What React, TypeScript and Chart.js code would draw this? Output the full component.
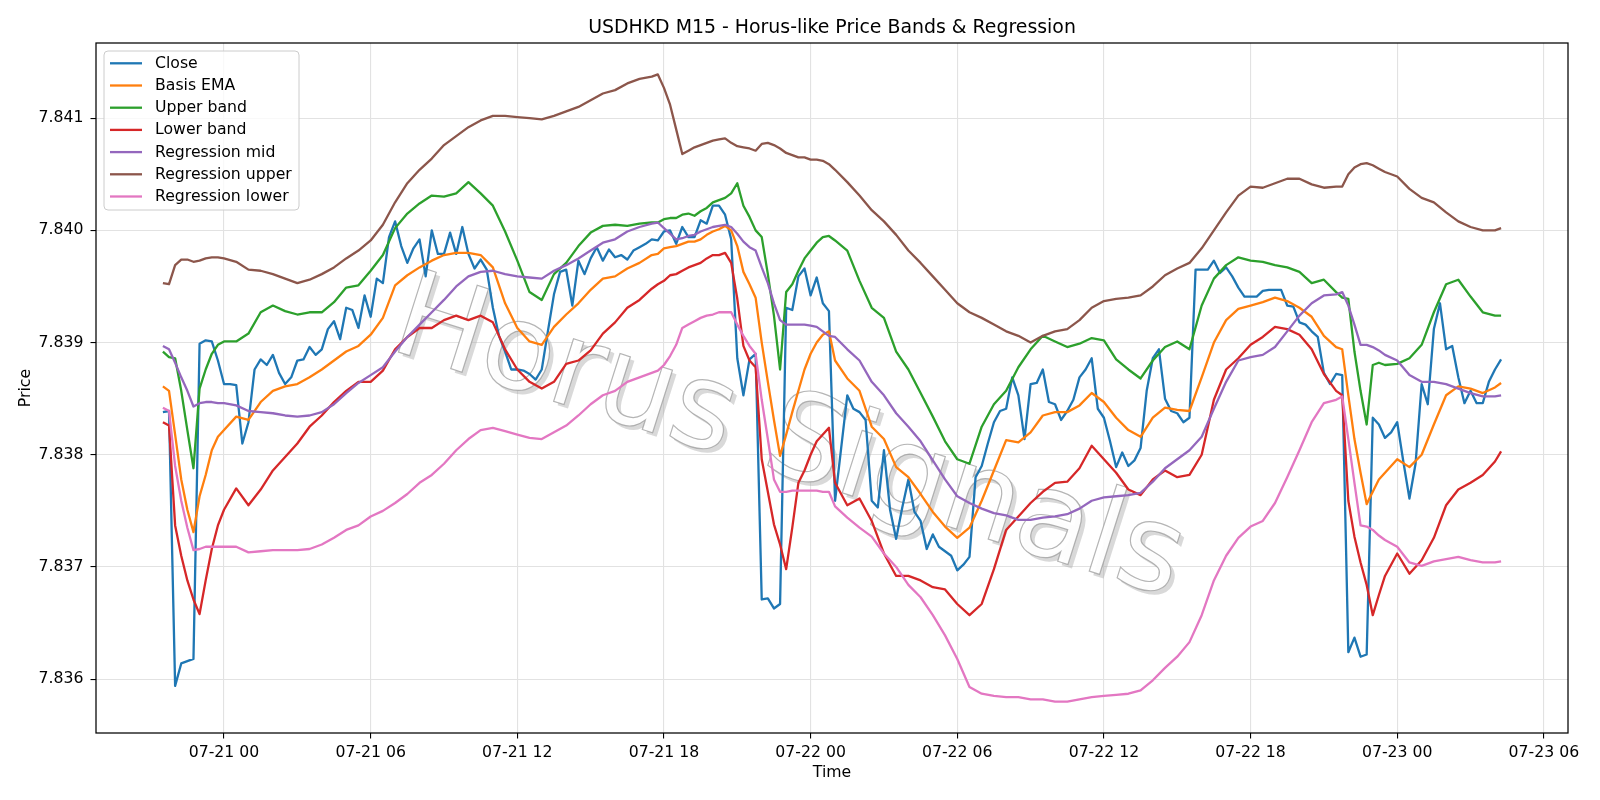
import React, { useEffect, useRef } from "react";
import { Chart, registerables } from "chart.js";

Chart.register(...registerables);

const FONT = '"DejaVu Sans", "Liberation Sans", sans-serif';

// ---- Time axis (hours relative to 07-21 00:00) ----
const closeStartHour = -2.5; // 07-20 21:30
const closeStepHours = 0.25; // M15 bars
const xMinHour = -5.2375;
const xMaxHour = 54.9875;
const xTickHours = [0, 6, 12, 18, 24, 30, 36, 42, 48, 54];
const xTickLabels = ["07-21 00", "07-21 06", "07-21 12", "07-21 18", "07-22 00", "07-22 06", "07-22 12", "07-22 18", "07-23 00", "07-23 06"];
const yMin = 7.83552;
const yMax = 7.84167;
const yTickValues = [7.836, 7.837, 7.838, 7.839, 7.84, 7.841];
const yTickLabels = ["7.836", "7.837", "7.838", "7.839", "7.840", "7.841"];

// ---- Close (every 15 minutes) ----
const closeValues = [
  7.83838, 7.83839, 7.83594, 7.83614, 7.83616, 7.83618, 7.83899, 7.83902, 7.83901, 7.83884, 7.83863,
  7.83863, 7.83862, 7.8381, 7.83829, 7.83876, 7.83885, 7.8388, 7.83889, 7.83873, 7.83863, 7.83869, 7.83884,
  7.83885, 7.83896, 7.83889, 7.83894, 7.83912, 7.83919, 7.83903, 7.83931, 7.83929, 7.83913, 7.83942, 7.83923,
  7.83957, 7.83953, 7.83994, 7.84008, 7.83986, 7.83971, 7.83984, 7.83992, 7.83959, 7.84, 7.83979, 7.83979,
  7.83998, 7.83979, 7.84003, 7.83979, 7.83966, 7.83974, 7.83965, 7.83931, 7.83906, 7.83892, 7.83876, 7.83876,
  7.83875, 7.83872, 7.83867, 7.83876, 7.8391, 7.83943, 7.83963, 7.83965, 7.83933, 7.83973, 7.83961, 7.83975,
  7.83985, 7.83973, 7.83983, 7.83976, 7.83978, 7.83974, 7.83982, 7.83985, 7.83988, 7.83992, 7.83991, 7.83999,
  7.84, 7.83988, 7.84003, 7.83994, 7.83994, 7.84009, 7.84006, 7.84022, 7.84022, 7.84014, 7.83992, 7.83886,
  7.83853, 7.83885, 7.8389, 7.83671, 7.83672, 7.83663, 7.83667, 7.83931, 7.83929, 7.83959, 7.83966, 7.83942,
  7.83958, 7.83935, 7.83928, 7.83759, 7.83806, 7.83853, 7.83841, 7.83838, 7.83831, 7.83759, 7.83753, 7.83804,
  7.83751, 7.83725, 7.83753, 7.83778, 7.83749, 7.83741, 7.83716, 7.83729, 7.83718, 7.83714, 7.8371, 7.83697,
  7.83702, 7.83709, 7.8378, 7.8379, 7.8381, 7.83829, 7.83839, 7.83841, 7.83869, 7.83853, 7.83814, 7.83863,
  7.83864, 7.83876, 7.83847, 7.83845, 7.83831, 7.83839, 7.83849, 7.83869, 7.83876, 7.83886, 7.83841, 7.83833,
  7.83812, 7.83789, 7.83802, 7.8379, 7.83795, 7.83806, 7.83857, 7.83886, 7.83894, 7.8385, 7.83839, 7.83837,
  7.83829, 7.83833, 7.83965, 7.83965, 7.83965, 7.83973, 7.83962, 7.83967, 7.83959, 7.83949, 7.83941, 7.83941,
  7.83941, 7.83946, 7.83947, 7.83947, 7.83947, 7.83933, 7.83932, 7.83918, 7.83916, 7.8391, 7.83905, 7.83873,
  7.83863, 7.83872, 7.83871, 7.83624, 7.83637, 7.8362, 7.83622, 7.83833, 7.83827, 7.83815, 7.8382, 7.83829,
  7.83794, 7.83761, 7.83792, 7.83863, 7.83845, 7.83912, 7.83935, 7.83894, 7.83897, 7.83869, 7.83846, 7.83857,
  7.83846, 7.83846, 7.83865, 7.83876, 7.83885,
];

// ---- Sample times for the smooth bands ----
const bandHours = [
  -2.5, -2.25, -2, -1.75, -1.5, -1.25, -1, -0.75, -0.5, -0.25, 0,
  0.5, 1, 1.5, 2, 2.5, 3, 3.5, 4, 4.5, 5, 5.5, 6, 6.5,
  7, 7.5, 8, 8.5, 9, 9.5, 10, 10.5, 11, 11.5, 12, 12.5, 13, 13.5, 14, 14.5, 15, 15.5,
  16, 16.5, 17, 17.5,
  17.75, 18, 18.25, 18.5, 18.75, 19, 19.25, 19.5, 19.75, 20, 20.25, 20.5, 20.75, 21, 21.25, 21.5, 21.75,
  22, 22.25, 22.5, 22.75, 23, 23.25, 23.5, 23.75, 24, 24.25, 24.5, 24.75, 25,
  25.5, 26, 26.5, 27, 27.5, 28, 28.5, 29, 29.5, 30, 30.5, 31, 31.5, 32, 32.5, 33, 33.5, 34,
  34.5, 35, 35.5, 36, 36.5, 37, 37.5, 38, 38.5, 39, 39.5, 40, 40.5, 41, 41.5, 42, 42.5, 43,
  43.5, 44, 44.5, 45, 45.5,
  45.75, 46, 46.25, 46.5, 46.75, 47, 47.25,
  47.5, 48, 48.5, 49, 49.5, 50, 50.5, 51, 51.5, 52,
  52.25,
];

const basisEma = [
  7.83861, 7.83857, 7.83818, 7.83778, 7.83751, 7.83731, 7.83763, 7.83782, 7.83804, 7.83816, 7.83822,
  7.83834, 7.83831, 7.83847, 7.83857, 7.83861, 7.83863, 7.83869, 7.83876, 7.83884, 7.83892, 7.83897, 7.83907, 7.83922,
  7.83951, 7.8396, 7.83967, 7.83973, 7.83978, 7.8398, 7.8398, 7.83978, 7.83967, 7.83935, 7.83913, 7.83901, 7.83898, 7.83914, 7.83925, 7.83935, 7.83947, 7.83957,
  7.83959, 7.83966, 7.83971, 7.83978,
  7.83979, 7.83984, 7.83985, 7.83986, 7.83988, 7.8399, 7.8399, 7.83992, 7.83996, 7.83999, 7.84001, 7.84004, 7.84, 7.83986, 7.83963, 7.83952, 7.8394,
  7.839, 7.83865, 7.83831, 7.83799, 7.83818, 7.83838, 7.83857, 7.83876, 7.8389, 7.839, 7.83907, 7.8391, 7.83884,
  7.83868, 7.83857, 7.83825, 7.83814, 7.83789, 7.8378, 7.83765, 7.83749, 7.83736, 7.83726, 7.83735, 7.83759, 7.83786, 7.83813, 7.83811, 7.8382, 7.83835, 7.83838,
  7.83838, 7.83844, 7.83855, 7.83847, 7.83833, 7.83822, 7.83816, 7.83833, 7.83842, 7.8384, 7.83839, 7.83869, 7.839, 7.8392, 7.8393, 7.83933, 7.83936, 7.8394,
  7.83937, 7.83931, 7.83923, 7.83906, 7.83896,
  7.83894, 7.83853, 7.83814, 7.83784, 7.83756, 7.83767, 7.83778,
  7.83784, 7.83796, 7.83789, 7.838, 7.83827, 7.83853, 7.83861, 7.83859, 7.83855, 7.8386,
  7.83864,
];

const upperBand = [
  7.83892, 7.83887, 7.83886, 7.83857, 7.83822, 7.83788, 7.83859, 7.83876, 7.8389, 7.83898, 7.83901,
  7.83901, 7.83908, 7.83927, 7.83933, 7.83928, 7.83925, 7.83927, 7.83927, 7.83936, 7.83949, 7.83951, 7.83964, 7.83978,
  7.84002, 7.84015, 7.84024, 7.84031, 7.8403, 7.84033, 7.84043, 7.84033, 7.84022, 7.83999, 7.83973, 7.83945, 7.83938, 7.83961, 7.83971, 7.83986, 7.83998, 7.84004,
  7.84005, 7.84004, 7.84006, 7.84007,
  7.84007, 7.8401, 7.84011, 7.84011, 7.84014, 7.84015, 7.84013, 7.84017, 7.8402, 7.84025, 7.84027, 7.84029, 7.84033, 7.84042, 7.84022, 7.84012, 7.84,
  7.83994, 7.83961, 7.83924, 7.83876, 7.83945, 7.83952, 7.83964, 7.83975, 7.83982, 7.83989, 7.83994, 7.83995, 7.83991,
  7.83982, 7.83955, 7.83931, 7.83922, 7.83892, 7.83876, 7.83855, 7.83834, 7.83812, 7.83796, 7.83792, 7.83825, 7.83845, 7.83857, 7.83878, 7.83894, 7.83906, 7.83901,
  7.83896, 7.83899, 7.83904, 7.83902, 7.83885, 7.83876, 7.83868, 7.83884, 7.83896, 7.83901, 7.83894, 7.83933, 7.83957, 7.83969, 7.83976, 7.83973, 7.83972, 7.83969,
  7.83967, 7.83963, 7.83953, 7.83956, 7.83945,
  7.8394, 7.83939, 7.83892, 7.83857, 7.83827, 7.8388, 7.83882,
  7.8388, 7.83881, 7.83886, 7.83898, 7.83927, 7.83952, 7.83956, 7.83941, 7.83927, 7.83924,
  7.83924,
];

const lowerBand = [
  7.83829, 7.83826, 7.83737, 7.8371, 7.83688, 7.83671, 7.83658, 7.83688, 7.83716, 7.83737, 7.83751,
  7.8377, 7.83755, 7.83769, 7.83786, 7.83798, 7.8381, 7.83825, 7.83835, 7.83847, 7.83857, 7.83865, 7.83865, 7.83875,
  7.83894, 7.83905, 7.83913, 7.83913, 7.8392, 7.83924, 7.8392, 7.83924, 7.83918, 7.83894, 7.83876, 7.83865, 7.83859, 7.83865, 7.83881, 7.83884, 7.83893, 7.83908,
  7.83918, 7.83931, 7.83938, 7.83948,
  7.83952, 7.83955, 7.8396, 7.83961, 7.83964, 7.83967, 7.83969, 7.83971, 7.83975, 7.83978, 7.83978, 7.8398, 7.83971, 7.83939, 7.83897, 7.83884, 7.83878,
  7.83796, 7.83767, 7.83738, 7.8372, 7.83698, 7.83735, 7.83775, 7.83786, 7.838, 7.83812, 7.83818, 7.83824, 7.83775,
  7.83755, 7.83761, 7.83741, 7.83712, 7.83692, 7.83692, 7.83688, 7.83682, 7.8368, 7.83667, 7.83657, 7.83667, 7.83698, 7.83733, 7.83745, 7.83757, 7.83767, 7.83775,
  7.83776, 7.83788, 7.83808, 7.83796, 7.83784, 7.83769, 7.83764, 7.83778, 7.83786, 7.8378, 7.83782, 7.838, 7.83849, 7.83876, 7.83886, 7.83898, 7.83905, 7.83914,
  7.83912, 7.83907, 7.83894, 7.83872, 7.83857,
  7.83853, 7.83759, 7.83727, 7.83704, 7.83684, 7.83657, 7.83675,
  7.83692, 7.83712, 7.83694, 7.83706, 7.83726, 7.83755, 7.83769, 7.83775, 7.83782, 7.83794,
  7.83803,
];

const regressionMid = [
  7.83897, 7.83894, 7.83882, 7.83869, 7.83857, 7.83843, 7.83846, 7.83847, 7.83847, 7.83846, 7.83846,
  7.83844, 7.83839, 7.83838, 7.83837, 7.83835, 7.83834, 7.83835, 7.83838, 7.83845, 7.83855, 7.83864, 7.83871, 7.83878,
  7.83892, 7.83905, 7.83916, 7.83927, 7.83938, 7.8395, 7.83959, 7.83963, 7.83964, 7.83961, 7.83959, 7.83958, 7.83957, 7.83964, 7.83969, 7.83975, 7.83982, 7.83989,
  7.83992, 7.83999, 7.84003, 7.84006,
  7.84007, 7.84002, 7.83997, 7.83992, 7.83993, 7.83995, 7.83996, 7.83999, 7.84001, 7.84003, 7.84004, 7.84005, 7.84003, 7.83997, 7.8399, 7.83985, 7.83982,
  7.83967, 7.83953, 7.83935, 7.8392, 7.83916, 7.83916, 7.83916, 7.83916, 7.83915, 7.83914, 7.8391, 7.83906, 7.83905,
  7.83894, 7.83884, 7.83865, 7.83853, 7.83837, 7.83825, 7.83812, 7.83795, 7.83778, 7.83763, 7.83757, 7.83752, 7.83748, 7.83746, 7.83742, 7.83742, 7.83744, 7.83745,
  7.83747, 7.83752, 7.83759, 7.83762, 7.83763, 7.83764, 7.83766, 7.83776, 7.83788, 7.83796, 7.83804, 7.83816, 7.83841, 7.83865, 7.83884, 7.83887, 7.83889, 7.83896,
  7.8391, 7.83924, 7.83935, 7.83942, 7.83943,
  7.83945, 7.83933, 7.83916, 7.83898, 7.83898, 7.83896, 7.83893,
  7.83889, 7.83884, 7.83871, 7.83865, 7.83865, 7.83863, 7.83859, 7.83855, 7.83852, 7.83852,
  7.83853,
];

const regressionUpper = [
  7.83953, 7.83952, 7.83969, 7.83974, 7.83974, 7.83972, 7.83973, 7.83975, 7.83976, 7.83976, 7.83975,
  7.83972, 7.83965, 7.83964, 7.83961, 7.83957, 7.83953, 7.83956, 7.83961, 7.83967, 7.83975, 7.83982, 7.83991, 7.84005,
  7.84025, 7.84042, 7.84054, 7.84064, 7.84076, 7.84084, 7.84092, 7.84098, 7.84102, 7.84102, 7.84101, 7.841, 7.84099, 7.84102, 7.84106, 7.8411, 7.84116, 7.84122,
  7.84125, 7.84131, 7.84135, 7.84137,
  7.84139, 7.84127, 7.84112, 7.8409, 7.84068, 7.84071, 7.84074, 7.84076, 7.84078, 7.8408, 7.84081, 7.84082, 7.84078, 7.84075, 7.84074, 7.84073, 7.84071,
  7.84077, 7.84078, 7.84076, 7.84073, 7.84069, 7.84067, 7.84065, 7.84065, 7.84063, 7.84063, 7.84062, 7.84059, 7.84054,
  7.84043, 7.84031, 7.84018, 7.84008, 7.83996, 7.83982, 7.83971, 7.83959, 7.83947, 7.83935, 7.83927, 7.83922, 7.83916, 7.8391, 7.83906, 7.839, 7.83906, 7.8391,
  7.83912, 7.8392, 7.83931, 7.83937, 7.83939, 7.8394, 7.83942, 7.8395, 7.8396, 7.83966, 7.83971, 7.83984, 7.84, 7.84016, 7.84031, 7.84039, 7.84038, 7.84042,
  7.84046, 7.84046, 7.84041, 7.84038, 7.84039,
  7.84039, 7.8405, 7.84056, 7.84059, 7.8406, 7.84058, 7.84055,
  7.84052, 7.84048, 7.84037, 7.84029, 7.84025, 7.84016, 7.84008, 7.84003, 7.84, 7.84,
  7.84002,
];

const regressionLower = [
  7.83842, 7.83839, 7.8379, 7.83759, 7.83735, 7.83715, 7.83716, 7.83718, 7.83718, 7.83718, 7.83718,
  7.83718, 7.83713, 7.83714, 7.83715, 7.83715, 7.83715, 7.83716, 7.8372, 7.83726, 7.83733, 7.83737, 7.83745, 7.8375,
  7.83757, 7.83765, 7.83775, 7.83782, 7.83792, 7.83804, 7.83814, 7.83822, 7.83824, 7.83821, 7.83818, 7.83815, 7.83814, 7.8382, 7.83826, 7.83835, 7.83845, 7.83853,
  7.83857, 7.83865, 7.83869, 7.83873,
  7.83875, 7.8388, 7.83888, 7.83898, 7.83913, 7.83916, 7.83919, 7.83922, 7.83924, 7.83925, 7.83927, 7.83927, 7.83927, 7.83916, 7.83906, 7.83897, 7.8389,
  7.83849, 7.83814, 7.83778, 7.83767, 7.83767, 7.83768, 7.83768, 7.83768, 7.83768, 7.83768, 7.83767, 7.83767, 7.83754,
  7.83744, 7.83735, 7.83727, 7.83712, 7.837, 7.83684, 7.83673, 7.83657, 7.83639, 7.83618, 7.83593, 7.83587, 7.83585, 7.83584, 7.83584, 7.83582, 7.83582, 7.8358,
  7.8358, 7.83582, 7.83584, 7.83585, 7.83586, 7.83587, 7.8359, 7.83599, 7.8361, 7.8362, 7.83633, 7.83657, 7.83688, 7.8371, 7.83726, 7.83736, 7.83741, 7.83757,
  7.8378, 7.83804, 7.83829, 7.83846, 7.83849,
  7.83852, 7.83814, 7.83775, 7.83737, 7.83736, 7.83733, 7.83728,
  7.83724, 7.83718, 7.83704, 7.83701, 7.83705, 7.83707, 7.83709, 7.83706, 7.83704, 7.83704,
  7.83705,
];

const seriesLabels = ["Close", "Basis EMA", "Upper band", "Lower band", "Regression mid", "Regression upper", "Regression lower"];
const seriesColors = ["#1f77b4", "#ff7f0e", "#2ca02c", "#d62728", "#9467bd", "#8c564b", "#e377c2"];

const TITLE = "USDHKD M15 - Horus-like Price Bands & Regression";
const WATERMARK = "Horus Signals";

function pairs(xs: number[], ys: number[]) {
  return ys.map((y, i) => ({ x: xs[i], y }));
}

const decorPlugin = {
  id: "decor",
  beforeDatasetsDraw(chart: any) {
    const ctx = chart.ctx;
    const ang = (17.6 * Math.PI) / 180;
    const cx = 788;
    const cy = 443;
    ctx.save();
    ctx.font = `120px ${FONT}`;
    ctx.textAlign = "center";
    ctx.textBaseline = "middle";
    // shadow
    ctx.save();
    ctx.translate(cx + 4, cy + 4);
    ctx.rotate(ang);
    ctx.fillStyle = "rgba(170,170,170,0.45)";
    ctx.fillText(WATERMARK, 0, 0);
    ctx.restore();
    // face
    ctx.save();
    ctx.translate(cx, cy);
    ctx.rotate(ang);
    ctx.fillStyle = "rgba(255,255,255,0.95)";
    ctx.fillText(WATERMARK, 0, 0);
    ctx.strokeStyle = "rgba(150,150,150,0.7)";
    ctx.lineWidth = 1.2;
    ctx.strokeText(WATERMARK, 0, 0);
    ctx.restore();
    ctx.restore();
  },
  afterDatasetsDraw(chart: any) {
    const { ctx, chartArea: a } = chart;
    ctx.save();
    ctx.strokeStyle = "#000";
    ctx.lineWidth = 1.25;
    ctx.strokeRect(a.left, a.top, a.right - a.left, a.bottom - a.top);
    ctx.restore();
  },
  afterDraw(chart: any) {
    const { ctx, chartArea: a } = chart;
    const midX = (a.left + a.right) / 2;
    ctx.save();
    ctx.fillStyle = "#000";
    // title
    ctx.font = `18.9px ${FONT}`;
    ctx.textAlign = "center";
    ctx.textBaseline = "alphabetic";
    ctx.fillText(TITLE, midX, 33.3);
    // axis titles
    ctx.font = `15.7px ${FONT}`;
    ctx.textBaseline = "middle";
    ctx.fillText("Time", midX, 772.5);
    ctx.save();
    ctx.translate(25.5, (a.top + a.bottom) / 2);
    ctx.rotate(-Math.PI / 2);
    ctx.fillText("Price", 0, 0);
    ctx.restore();
    // legend
    const bx = 104, by = 51, bw = 195, bh = 159, r = 4;
    ctx.beginPath();
    ctx.moveTo(bx + r, by);
    ctx.lineTo(bx + bw - r, by);
    ctx.quadraticCurveTo(bx + bw, by, bx + bw, by + r);
    ctx.lineTo(bx + bw, by + bh - r);
    ctx.quadraticCurveTo(bx + bw, by + bh, bx + bw - r, by + bh);
    ctx.lineTo(bx + r, by + bh);
    ctx.quadraticCurveTo(bx, by + bh, bx, by + bh - r);
    ctx.lineTo(bx, by + r);
    ctx.quadraticCurveTo(bx, by, bx + r, by);
    ctx.closePath();
    ctx.fillStyle = "rgba(255,255,255,0.8)";
    ctx.fill();
    ctx.strokeStyle = "#cccccc";
    ctx.lineWidth = 1;
    ctx.stroke();
    ctx.textAlign = "left";
    ctx.textBaseline = "middle";
    ctx.font = `15.7px ${FONT}`;
    chart.data.datasets.forEach((ds: any, i: number) => {
      const y = 63.3 + i * 22.2;
      ctx.strokeStyle = ds.borderColor;
      ctx.lineWidth = 2.3;
      ctx.beginPath();
      ctx.moveTo(110, y);
      ctx.lineTo(142, y);
      ctx.stroke();
      ctx.fillStyle = "#000";
      ctx.fillText(ds.label, 155, y + 0.5);
    });
    ctx.restore();
  },
};

export default function App() {
  const ref = useRef<HTMLCanvasElement | null>(null);

  useEffect(() => {
    if (!ref.current) return;
    const closeHours = closeValues.map((_, i) => closeStartHour + i * closeStepHours);
    const values = [closeValues, basisEma, upperBand, lowerBand, regressionMid, regressionUpper, regressionLower];
    const datasets = values.map((vals, i) => ({
      label: seriesLabels[i],
      data: pairs(i === 0 ? closeHours : bandHours, vals),
      borderColor: seriesColors[i],
      backgroundColor: seriesColors[i],
      borderWidth: 2.3,
      pointRadius: 0,
      pointHoverRadius: 0,
      tension: 0,
      fill: false,
      borderJoinStyle: "round" as const,
      order: 7 - i,
    }));

    const tickFont = { family: FONT, size: 15.7 };
    const chart = new Chart(ref.current, {
      type: "line",
      data: { datasets },
      options: {
        animation: false,
        responsive: false,
        maintainAspectRatio: false,
        events: [],
        layout: { padding: { top: 43, right: 32, bottom: 0, left: 0 } },
        plugins: {
          legend: { display: false },
          title: { display: false },
          tooltip: { enabled: false },
        },
        scales: {
          x: {
            type: "linear",
            min: xMinHour,
            max: xMaxHour,
            afterFit: (s: any) => {
              s.height = 67;
            },
            afterBuildTicks: (s: any) => {
              s.ticks = xTickHours.map((v) => ({ value: v }));
            },
            ticks: {
              autoSkip: false,
              maxRotation: 0,
              minRotation: 0,
              padding: 5,
              color: "#000",
              font: tickFont,
              callback: (_v: any, i: number) => xTickLabels[i],
            },
            grid: { color: "#e2e2e2", lineWidth: 1.1, tickColor: "#000", tickLength: 5.5, tickWidth: 1.1 },
            border: { display: false },
          },
          y: {
            type: "linear",
            min: yMin,
            max: yMax,
            afterFit: (s: any) => {
              s.width = 96;
            },
            afterBuildTicks: (s: any) => {
              s.ticks = yTickValues.map((v) => ({ value: v }));
            },
            ticks: {
              autoSkip: false,
              padding: 7,
              color: "#000",
              font: tickFont,
              callback: (_v: any, i: number) => yTickLabels[i],
            },
            grid: { color: "#e2e2e2", lineWidth: 1.1, tickColor: "#000", tickLength: 5.5, tickWidth: 1.1 },
            border: { display: false },
          },
        },
      },
      plugins: [decorPlugin],
    } as any);
    return () => chart.destroy();
  }, []);

  return (
    <div style={{ position: "absolute", left: 0, top: 0, width: 1600, height: 800, background: "#fff" }}>
      <canvas ref={ref} width={1600} height={800} style={{ display: "block", width: 1600, height: 800 }} />
    </div>
  );
}
